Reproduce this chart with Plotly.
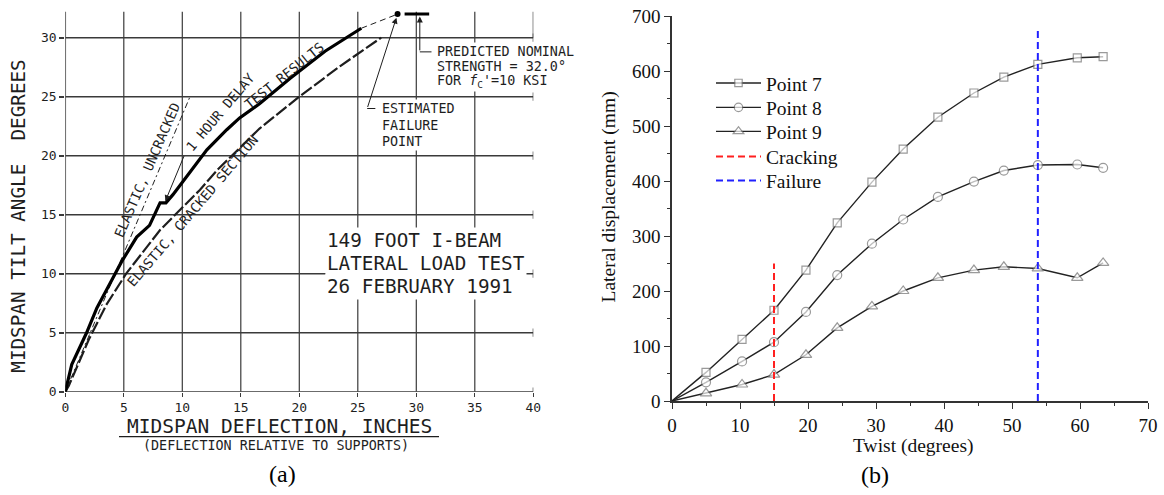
import plotly.graph_objects as go

# ---------------- panel (a): 149 ft I-beam lateral load test ----------------
test_defl = [0, 0.55, 1.8, 2.7, 4.0, 4.8, 6.1, 7.2, 8.1, 8.6, 9.2, 10.9, 12.1,
             13.8, 14.9, 16.6, 19.2, 22.2, 25.3]
test_tilt = [0, 2.3, 4.95, 7.1, 9.5, 11.0, 13.1, 14.1, 16.0, 16.0, 16.7, 18.9,
             20.5, 22.2, 23.2, 24.4, 26.55, 28.85, 30.8]

cracked_defl = [0, 0.3, 2.0, 3.5, 5.2, 8.1, 11.5, 13.0, 16.6, 20.0, 23.5, 27.0]
cracked_tilt = [0, 0.5, 4.4, 7.35, 10.0, 13.7, 17.1, 18.8, 22.3, 25.0, 27.6, 30.0]

uncracked_defl = [0, 10.7]
uncracked_tilt = [0, 25.1]

failure_defl = 28.4          # estimated failure point
failure_tilt = 32.0
pred_strength = 32.0         # predicted nominal strength, degrees
pred_span = [29.0, 31.1]

a_xticks = [0, 5, 10, 15, 20, 25, 30, 35, 40]
a_yticks = [0, 5, 10, 15, 20, 25, 30]
a_grid_top = 32.2

# ---------------- panel (b): lateral displacement vs twist ----------------
twist = [0, 5.0, 10.3, 15.0, 19.7, 24.3, 29.4, 34.0, 39.1, 44.4, 48.8, 53.8, 59.6, 63.4]
point7 = [0, 52, 112, 165, 238, 324, 398, 458, 516, 560, 589, 612, 624, 626]
point8 = [0, 34, 72, 107, 162, 229, 286, 330, 371, 399, 419, 429, 430, 424]
point9 = [0, 14, 30, 48, 84, 133, 172, 200, 224, 238, 244, 241, 224, 251]

cracking_twist = 15.0
cracking_top = 250
failure_twist = 53.8
failure_top = 680

W, H = 1164, 495
MONO = "DejaVu Sans Mono"
SERIF = "Liberation Serif"
INK = "#1e1e1e"
GRID = "#3a3a3a"


def px_x(p):
    return p / W


def px_y(p):
    return (H - p) / H


fig = go.Figure()

# ---- panel (a) curves ----
fig.add_trace(go.Scatter(x=uncracked_defl, y=uncracked_tilt, mode="lines",
                         line=dict(color=INK, width=1, dash="6px,3px,2px,3px"),
                         showlegend=False, xaxis="x", yaxis="y"))
fig.add_trace(go.Scatter(x=cracked_defl, y=cracked_tilt, mode="lines",
                         line=dict(color=INK, width=2.2, dash="13px,3px"),
                         showlegend=False, xaxis="x", yaxis="y"))
fig.add_trace(go.Scatter(x=test_defl, y=test_tilt, mode="lines",
                         line=dict(color="#000", width=3.2),
                         showlegend=False, xaxis="x", yaxis="y"))
fig.add_trace(go.Scatter(x=[test_defl[-1], failure_defl], y=[test_tilt[-1], failure_tilt],
                         mode="lines", line=dict(color=INK, width=1, dash="6px,4px"),
                         showlegend=False, xaxis="x", yaxis="y"))
fig.add_trace(go.Scatter(x=[failure_defl], y=[failure_tilt], mode="markers",
                         marker=dict(color="#000", size=6),
                         showlegend=False, xaxis="x", yaxis="y", cliponaxis=False))
fig.add_trace(go.Scatter(x=pred_span, y=[pred_strength, pred_strength], mode="lines",
                         line=dict(color="#000", width=3),
                         showlegend=False, xaxis="x", yaxis="y", cliponaxis=False))

# ---- panel (b) curves; each entry gets its own legend box so rows sit tight ----
def marker_sizes(n, s):
    return [0] + [s] * (n - 1)


series = [
    ("Point 7", point7, "square", 8),
    ("Point 8", point8, "circle", 9),
    ("Point 9", point9, "triangle-up", 10),
]
legend_ids = ["legend", "legend2", "legend3", "legend4", "legend5"]
for i, (name, vals, sym, size) in enumerate(series):
    fig.add_trace(go.Scatter(
        x=twist, y=vals, mode="lines+markers", name=name, legend=legend_ids[i],
        line=dict(color="#222", width=1.4),
        marker=dict(symbol=sym, size=marker_sizes(len(vals), size), color="white",
                    line=dict(color="#707070", width=1.2)),
        xaxis="x2", yaxis="y2"))

fig.add_trace(go.Scatter(x=[cracking_twist, cracking_twist], y=[0, cracking_top],
                         mode="lines", name="Cracking", legend=legend_ids[3],
                         line=dict(color="#ff2020", width=2, dash="7px,4px"),
                         xaxis="x2", yaxis="y2"))
fig.add_trace(go.Scatter(x=[failure_twist, failure_twist], y=[0, failure_top],
                         mode="lines", name="Failure", legend=legend_ids[4],
                         line=dict(color="#2020ff", width=2, dash="7px,4px"),
                         xaxis="x2", yaxis="y2"))

# ---- panel (a) grid drawn as shapes so lines can stop short of the frame ----
shapes = []
for xv in a_xticks[:-1]:
    shapes.append(dict(type="line", xref="x", yref="y", x0=xv, x1=xv, y0=0, y1=a_grid_top,
                       line=dict(color=GRID, width=1.5 if xv == 0 else 1.2), layer="below"))
for yv in a_yticks:
    shapes.append(dict(type="line", xref="x", yref="y", x0=0, x1=a_xticks[-1], y0=yv, y1=yv,
                       line=dict(color=GRID, width=1.2 if yv == 0 else 1.6), layer="below"))
    shapes.append(dict(type="line", xref="x", yref="y", x0=a_xticks[-1], x1=a_xticks[-1],
                       y0=yv - 0.35, y1=yv + 0.35, line=dict(color=GRID, width=1.2), layer="below"))
shapes.append(dict(type="line", xref="x", yref="y", x0=a_xticks[-1], x1=a_xticks[-1],
                   y0=a_yticks[-1], y1=a_grid_top, line=dict(color=GRID, width=1.2), layer="below"))
# leader lines
shapes.append(dict(type="line", xref="x", yref="y", x0=30.3, x1=31.3, y0=28.8, y1=28.8,
                   line=dict(color=INK, width=1)))
shapes.append(dict(type="line", xref="x", yref="y", x0=25.8, x1=26.5, y0=24.0, y1=24.0,
                   line=dict(color=INK, width=1)))
# underline of the x title
shapes.append(dict(type="line", xref="paper", yref="paper", x0=px_x(119), x1=px_x(439),
                   y0=px_y(436.7), y1=px_y(436.7), line=dict(color=INK, width=1.2)))

ann = []


def text_a(txt, x, y, size=13.4, angle=0, xanchor="center", bg=None):
    d = dict(text=txt, x=x, y=y, xref="x", yref="y", showarrow=False, textangle=angle,
             xanchor=xanchor, yanchor="middle", font=dict(family=MONO, size=size, color=INK),
             borderpad=1)
    if bg:
        d["bgcolor"] = bg
    ann.append(d)


def text_p(txt, xp, yp, family, size, angle=0, color=INK):
    ann.append(dict(text=txt, x=px_x(xp), y=px_y(yp), xref="paper", yref="paper",
                    xanchor="center", yanchor="middle", showarrow=False, textangle=angle,
                    font=dict(family=family, size=size, color=color)))


text_a("ELASTIC, UNCRACKED", 7.0, 18.75, angle=-66.6)
text_a("ELASTIC, CRACKED SECTION", 10.85, 15.3, angle=-49.6)
text_a("1 HOUR DELAY", 13.24, 23.67, angle=-49.7)
text_a("TEST RESULTS", 18.75, 26.8, angle=-38.7)

text_a("PREDICTED NOMINAL", 31.6, 28.8, xanchor="left", bg="white")
text_a("STRENGTH = 32.0°", 31.6, 27.55, xanchor="left", bg="white")
text_a("FOR <i>f</i><sub>C</sub>'=10 KSI", 31.6, 26.3, xanchor="left", bg="white")
text_a("ESTIMATED", 26.9, 24.02, xanchor="left", bg="white")
text_a("FAILURE", 26.9, 22.52, xanchor="left", bg="white")
text_a("POINT", 26.9, 21.19, xanchor="left", bg="white")

text_a("149 FOOT I-BEAM", 22.2, 12.84, size=19.3, xanchor="left", bg="white")
text_a("LATERAL LOAD TEST", 22.2, 10.88, size=19.3, xanchor="left", bg="white")
text_a("26 FEBRUARY 1991", 22.2, 8.9, size=19.3, xanchor="left", bg="white")

# arrows
for (hx, hy, tx, ty) in [(30.3, 31.8, 30.3, 28.8), (28.3, 31.7, 25.8, 24.0), (8.55, 16.15, 10.2, 20.1)]:
    ann.append(dict(text="", x=hx, y=hy, ax=tx, ay=ty, xref="x", yref="y", axref="x", ayref="y",
                    showarrow=True, arrowhead=2, arrowsize=1.2, arrowwidth=1, arrowcolor=INK))

# axis titles, panel (a)
text_p("MIDSPAN\u00a0TILT\u00a0ANGLE\u00a0\u00a0DEGREES", 19, 216.7, MONO, 19.3, angle=-90)
text_p("MIDSPAN DEFLECTION, INCHES", 279, 426, MONO, 19.5)
text_p("(DEFLECTION RELATIVE TO SUPPORTS)", 276, 445.7, MONO, 13.4)
text_p("(a)", 282, 474, SERIF, 24, color="#000")

# axis titles, panel (b)
text_p("Lateral displacement (mm)", 608, 197.5, SERIF, 19.5, angle=-90, color="#111")
text_p("Twist (degrees)", 913, 446, SERIF, 19.5, color="#111")
text_p("(b)", 875, 475, SERIF, 24, color="#000")

# legend rows (centres in page pixels)
legend_rows = [83.3, 107.7, 131.7, 156.7, 180.7]
legend_layout = {}
for lid, yc in zip(legend_ids, legend_rows):
    legend_layout[lid] = dict(x=px_x(711), y=px_y(yc), xanchor="left", yanchor="middle",
                              bgcolor="rgba(0,0,0,0)", borderwidth=0, itemwidth=45,
                              font=dict(family=SERIF, size=19.5, color="#111"))

fig.update_layout(
    width=W, height=H,
    margin=dict(l=0, r=0, t=0, b=0, autoexpand=False),
    paper_bgcolor="white", plot_bgcolor="rgba(0,0,0,0)",
    showlegend=True,
    shapes=shapes, annotations=ann,
    xaxis=dict(domain=[px_x(65.3), px_x(533.3)], range=[0, 40], tickvals=a_xticks,
               showgrid=False, zeroline=False, showline=False, automargin=False,
               ticks="outside", ticklen=4, tickcolor=GRID, tickwidth=1.2,
               tickfont=dict(family=MONO, size=13, color=INK), anchor="y", fixedrange=True),
    yaxis=dict(domain=[px_y(391.7), px_y(2.3)], range=[0, 33], tickvals=a_yticks,
               showgrid=False, zeroline=False, showline=False, automargin=False,
               ticks="outside", ticklen=5, tickcolor=GRID, tickwidth=1.5,
               tickfont=dict(family=MONO, size=13, color=INK), anchor="x", fixedrange=True),
    xaxis2=dict(domain=[px_x(672), px_x(1148)], range=[0, 70], dtick=10, tick0=0,
                showgrid=False, zeroline=False, showline=True, linecolor="#333", linewidth=1.5,
                automargin=False,
                ticks="outside", ticklen=6, tickcolor="#333", tickwidth=1.3,
                minor=dict(dtick=5, ticks="outside", ticklen=3, tickcolor="#333", tickwidth=1.2),
                tickfont=dict(family=SERIF, size=19, color="#111"), anchor="y2", fixedrange=True),
    yaxis2=dict(domain=[px_y(401), px_y(16)], range=[0, 700], dtick=100, tick0=0,
                showgrid=False, zeroline=False, showline=True, linecolor="#333", linewidth=1.5,
                automargin=False,
                ticks="outside", ticklen=6, tickcolor="#333", tickwidth=1.3,
                minor=dict(dtick=50, ticks="outside", ticklen=3, tickcolor="#333", tickwidth=1.2),
                tickfont=dict(family=SERIF, size=19, color="#111"), anchor="x2", fixedrange=True),
    **legend_layout,
)

fig.write_html("out.html")
